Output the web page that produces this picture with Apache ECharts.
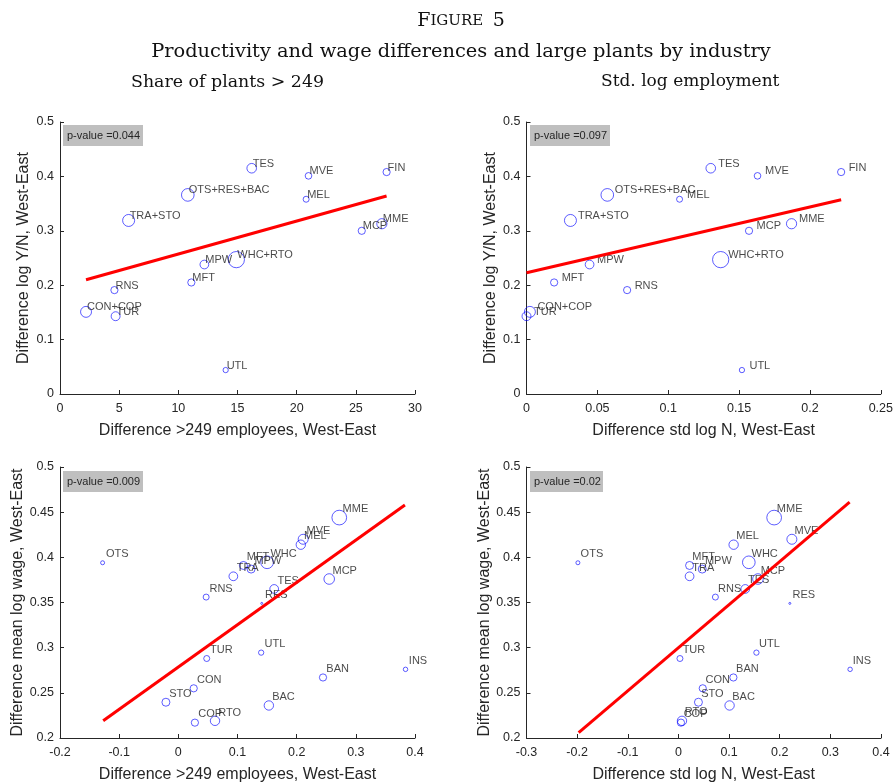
<!DOCTYPE html>
<html>
<head>
<meta charset="utf-8">
<script src="https://cdn.jsdelivr.net/npm/echarts@6/dist/echarts.min.js"></script>
<style>
  html, body { margin: 0; padding: 0; background: #ffffff; }
  #chart { width: 896px; height: 784px; }
</style>
</head>
<body>
<div id="chart"></div>
<script>
// ---- Top row: productivity (log Y/N) differences, merged industries ----
const industriesTop = ['TES', 'MVE', 'FIN', 'OTS+RES+BAC', 'MEL', 'TRA+STO', 'MCP', 'MME',
  'WHC+RTO', 'MPW', 'MFT', 'RNS', 'CON+COP', 'TUR', 'UTL'];
const shareLargeTop = [16.2, 21.0, 27.6, 10.8, 20.8, 5.8, 25.5, 27.2, 14.9, 12.2, 11.1, 4.6, 2.2, 4.7, 14.0];
const stdLogNTop = [0.130, 0.163, 0.222, 0.057, 0.108, 0.031, 0.157, 0.187, 0.137, 0.0445, 0.0195, 0.071, 0.0024, 0.0, 0.152];
const prodDiff = [0.415, 0.401, 0.408, 0.366, 0.358, 0.319, 0.300, 0.313, 0.247, 0.238, 0.205, 0.191, 0.151, 0.143, 0.044];
const weightTop = [23, 11, 13, 40, 9, 36, 13, 26, 66, 19, 13, 13, 30, 20, 7];

// ---- Bottom row: mean log wage differences ----
const industriesBot = ['OTS', 'MME', 'MVE', 'MEL', 'MFT', 'MPW', 'WHC', 'TRA', 'TES', 'MCP', 'RNS',
  'RES', 'TUR', 'UTL', 'INS', 'BAN', 'CON', 'STO', 'BAC', 'COP', 'RTO'];
const shareLargeBot = [-0.128, 0.272, 0.211, 0.207, 0.110, 0.123, 0.150, 0.093, 0.162, 0.255, 0.047,
  0.141, 0.048, 0.140, 0.384, 0.2445, 0.026, -0.021, 0.153, 0.028, 0.062];
const stdLogNBot = [-0.1985, 0.189, 0.224, 0.109, 0.022, 0.047, 0.139, 0.022, 0.132, 0.157, 0.073,
  0.220, 0.003, 0.154, 0.339, 0.1085, 0.048, 0.0395, 0.101, 0.005, 0.007];
const wageDiff = [0.394, 0.444, 0.420, 0.414, 0.391, 0.387, 0.3945, 0.379, 0.365, 0.376, 0.356,
  0.349, 0.288, 0.2945, 0.276, 0.267, 0.255, 0.2396, 0.236, 0.217, 0.219];
const weightBot = [4, 54, 25, 22, 16, 16, 40, 19, 19, 28, 9, 1, 9, 7, 5, 13, 13, 16, 22, 13, 22];

// ---- Fitted regression lines (end points) and p-values ----
const fitShareProd = [[2.2, 0.210], [27.6, 0.364]];
const fitStdProd = [[0.0, 0.223], [0.222, 0.357]];
const fitShareWage = [[-0.127, 0.219], [0.383, 0.458]];
const fitStdWage = [[-0.197, 0.206], [0.338, 0.461]];
const pValues = ['0.044', '0.097', '0.009', '0.02'];

// ---- Axis ranges / ticks ----
const xShareTop = { min: 0, max: 30, interval: 5 };
const xStdTop = { min: 0, max: 0.25, interval: 0.05 };
const xShareBot = { min: -0.2, max: 0.4, interval: 0.1 };
const xStdBot = { min: -0.3, max: 0.4, interval: 0.1 };
const yTop = { min: 0, max: 0.5, interval: 0.1 };
const yBot = { min: 0.2, max: 0.5, interval: 0.05 };

const SANS = "'Liberation Sans', Arial, Helvetica, sans-serif";
const SERIF = "'DejaVu Serif', 'Liberation Serif', serif";
const INK = '#262626';

const grids = [
  { left: 60, top: 122, width: 355, height: 272 },
  { left: 526.5, top: 122, width: 354.5, height: 272 },
  { left: 60, top: 467, width: 355, height: 272.5 },
  { left: 526.5, top: 467, width: 354.5, height: 272.5 }
];

function xAxisFor(idx, range, name) {
  return Object.assign({
    gridIndex: idx, type: 'value', name: name, nameLocation: 'middle', nameGap: 29,
    nameTextStyle: { fontFamily: SANS, fontSize: 16, color: INK },
    axisLine: { show: true, onZero: false, lineStyle: { color: INK, width: 1 } },
    axisTick: { show: true, inside: true, length: 4, lineStyle: { color: INK } },
    axisLabel: { fontFamily: SANS, fontSize: 12.5, color: INK, margin: 8 },
    splitLine: { show: false }
  }, range);
}
function yAxisFor(idx, range, name) {
  return Object.assign({
    gridIndex: idx, type: 'value', name: name, nameLocation: 'middle', nameGap: 28, nameRotate: 90,
    nameTextStyle: { fontFamily: SANS, fontSize: 16, color: INK },
    axisLine: { show: true, onZero: false, lineStyle: { color: INK, width: 1 } },
    axisTick: { show: true, inside: true, length: 4, lineStyle: { color: INK } },
    axisLabel: { fontFamily: SANS, fontSize: 12.5, color: INK, margin: 6 },
    splitLine: { show: false }
  }, range);
}

function bubbles(idx, names, xs, ys, ws, labelOffset) {
  return {
    type: 'scatter', xAxisIndex: idx, yAxisIndex: idx, silent: true, z: 2,
    symbol: 'circle',
    symbolSize: function (v) { return 2 * Math.sqrt(v[2]); },
    itemStyle: { color: 'rgba(0,0,0,0)', borderColor: '#0000ff', borderWidth: 0.8 },
    label: {
      show: true, position: 'inside', align: 'left', verticalAlign: 'middle',
      offset: labelOffset, fontFamily: SANS, fontSize: 11, color: '#1a1a1a',
      formatter: function (p) { return p.name; }
    },
    data: names.map(function (n, i) { return { name: n, value: [xs[i], ys[i], ws[i]] }; })
  };
}
function fitLine(idx, pts) {
  return {
    type: 'line', xAxisIndex: idx, yAxisIndex: idx, silent: true, z: 3,
    symbol: 'none', lineStyle: { color: '#ff0000', width: 3 }, data: pts
  };
}
function pBox(x, y, w, txt) {
  return {
    type: 'group', left: x, top: y, silent: true, z: 10,
    children: [
      { type: 'rect', shape: { x: 0, y: 0, width: w, height: 21 }, style: { fill: '#bfbfbf' } },
      { type: 'text', x: 4, y: 10.5, style: { text: 'p-value =' + txt, font: '11px ' + SANS, fill: INK, textVerticalAlign: 'middle' } }
    ]
  };
}

const chart = echarts.init(document.getElementById('chart'), null, { renderer: 'canvas' });
chart.setOption({
  animation: false,
  backgroundColor: '#ffffff',
  grid: grids,
  xAxis: [
    xAxisFor(0, xShareTop, 'Difference >249 employees, West-East'),
    xAxisFor(1, xStdTop, 'Difference std log N, West-East'),
    xAxisFor(2, xShareBot, 'Difference >249 employees, West-East'),
    xAxisFor(3, xStdBot, 'Difference std log N, West-East')
  ],
  yAxis: [
    yAxisFor(0, yTop, 'Difference log Y/N, West-East'),
    yAxisFor(1, yTop, 'Difference log Y/N, West-East'),
    yAxisFor(2, yBot, 'Difference mean log wage, West-East'),
    yAxisFor(3, yBot, 'Difference mean log wage, West-East')
  ],
  series: [
    bubbles(0, industriesTop, shareLargeTop, prodDiff, weightTop, [1, -4.5]),
    fitLine(0, fitShareProd),
    bubbles(1, industriesTop, stdLogNTop, prodDiff, weightTop, [7.5, -4.5]),
    fitLine(1, fitStdProd),
    bubbles(2, industriesBot, shareLargeBot, wageDiff, weightBot, [3.3, -8.3]),
    fitLine(2, fitShareWage),
    bubbles(3, industriesBot, stdLogNBot, wageDiff, weightBot, [2.7, -8.5]),
    fitLine(3, fitStdWage)
  ],
  graphic: [
    {
      type: 'text', x: 461, y: 21, silent: true,
      style: {
        text: '{big|F}{small|IGURE\u00a0\u00a0}{big|5}', textAlign: 'center', textVerticalAlign: 'middle',
        rich: {
          big: { fontFamily: SERIF, fontSize: 19, fill: '#111' },
          small: { fontFamily: SERIF, fontSize: 15, fill: '#111' }
        }
      }
    },
    {
      type: 'text', x: 461, y: 52, silent: true,
      style: { text: 'Productivity and wage differences and large plants by industry', textAlign: 'center',
        textVerticalAlign: 'middle', font: '19.4px ' + SERIF, fill: '#111' }
    },
    {
      type: 'text', x: 131, y: 82, silent: true,
      style: { text: 'Share of plants > 249', textAlign: 'left', textVerticalAlign: 'middle',
        font: '17.4px ' + SERIF, fill: '#111' }
    },
    {
      type: 'text', x: 601, y: 82, silent: true,
      style: { text: 'Std. log employment', textAlign: 'left', textVerticalAlign: 'middle',
        font: '17px ' + SERIF, fill: '#111' }
    },
    pBox(63, 125, 80, pValues[0]),
    pBox(530, 125, 80, pValues[1]),
    pBox(63, 471, 80, pValues[2]),
    pBox(530, 471, 73, pValues[3])
  ]
});
</script>
</body>
</html>
